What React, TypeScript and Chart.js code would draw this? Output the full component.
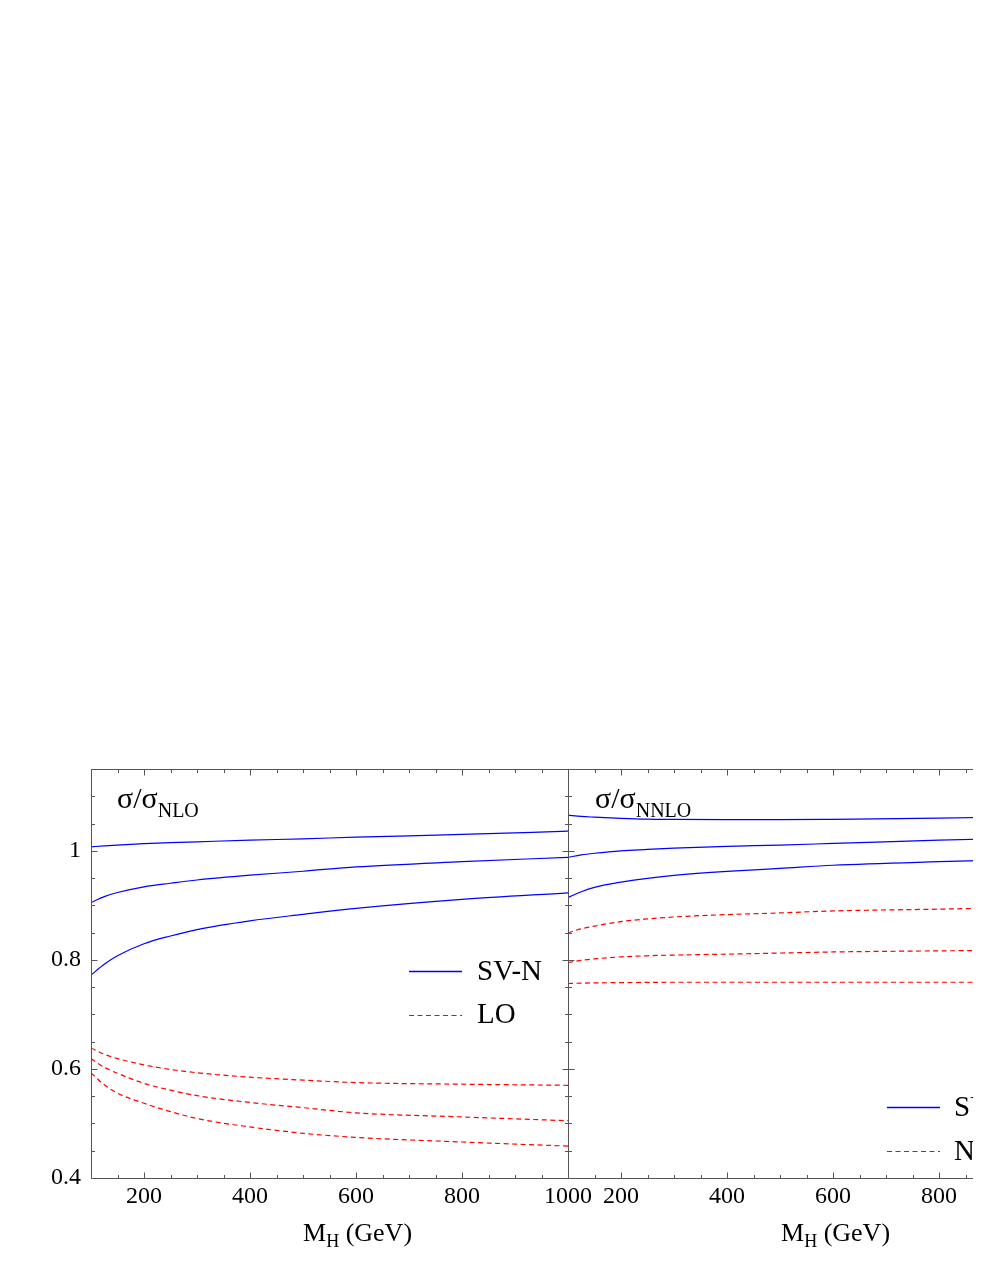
import React, { useEffect, useRef } from "react";
import { Chart, registerables } from "chart.js";

Chart.register(...registerables);

const FONT = "'Liberation Serif', 'Times New Roman', serif";

// ---- data ----
const massPoints = [100, 125, 150, 200, 250, 300, 400, 500, 600, 800, 1000];

// left panel: sigma / sigma_NLO
const svnOverNloUpper = [1.0073, 1.009, 1.0105, 1.013, 1.015, 1.0165, 1.0195, 1.022, 1.025, 1.030, 1.036];
const svnOverNloMiddle = [0.905, 0.916, 0.9235, 0.934, 0.9405, 0.9465, 0.9553, 0.9625, 0.9705, 0.980, 0.988];
const svnOverNloLower = [0.772, 0.792, 0.8075, 0.8295, 0.8438, 0.8556, 0.8716, 0.8834, 0.8945, 0.911, 0.923];
const loOverNloUpper = [0.6385, 0.627, 0.619, 0.6075, 0.599, 0.593, 0.5848, 0.5795, 0.575, 0.572, 0.570];
const loOverNloMiddle = [0.619, 0.603, 0.592, 0.5735, 0.561, 0.551, 0.5385, 0.529, 0.5195, 0.512, 0.505];
const loOverNloLower = [0.5927, 0.571, 0.5555, 0.537, 0.5217, 0.509, 0.4936, 0.482, 0.4745, 0.466, 0.4585];

// right panel: sigma / sigma_NNLO
const svnOverNnloUpper = [1.0655, 1.063, 1.0617, 1.0595, 1.058, 1.0575, 1.057, 1.057, 1.0577, 1.060, 1.063];
const svnOverNnloMiddle = [0.988, 0.9925, 0.9955, 1.0, 1.0025, 1.0048, 1.008, 1.0105, 1.0135, 1.0195, 1.024];
const svnOverNnloLower = [0.9145, 0.925, 0.933, 0.9424, 0.9496, 0.9548, 0.9621, 0.9676, 0.9735, 0.980, 0.985];
const nloOverNnloUpper = [0.8495, 0.857, 0.862, 0.8702, 0.8751, 0.8787, 0.883, 0.8861, 0.8897, 0.893, 0.897];
const nloOverNnloMiddle = [0.7952, 0.799, 0.8018, 0.8055, 0.8075, 0.8088, 0.8105, 0.8125, 0.8145, 0.8165, 0.818];
const nloOverNnloLower = [0.7567, 0.7573, 0.7578, 0.7583, 0.7587, 0.759, 0.759, 0.759, 0.759, 0.759, 0.759];

// ---- axes ----
const xMin = 100;
const xMax = 1000;
const yMin = 0.4;
const yMax = 1.15;
const xTickLabels = [200, 400, 600, 800, 1000];
const yTickLabels = [0.4, 0.6, 0.8, 1];
const xTickMarks = [100, 150, 200, 250, 300, 350, 400, 450, 500, 550, 600, 650, 700, 750, 800, 850, 900, 950, 1000];
const yTickMarks = [0.4, 0.45, 0.5, 0.55, 0.6, 0.65, 0.7, 0.75, 0.8, 0.85, 0.9, 0.95, 1.0, 1.05, 1.1, 1.15];

const BLUE = "#0000ff";
const RED = "#ff0000";

type Series = { label: string; values: number[]; color: string; dashed: boolean };

const leftSeries: Series[] = [
  { label: "SV-N", values: svnOverNloUpper, color: BLUE, dashed: false },
  { label: "SV-N", values: svnOverNloMiddle, color: BLUE, dashed: false },
  { label: "SV-N", values: svnOverNloLower, color: BLUE, dashed: false },
  { label: "LO", values: loOverNloUpper, color: RED, dashed: true },
  { label: "LO", values: loOverNloMiddle, color: RED, dashed: true },
  { label: "LO", values: loOverNloLower, color: RED, dashed: true },
];

const rightSeries: Series[] = [
  { label: "SV-N", values: svnOverNnloUpper, color: BLUE, dashed: false },
  { label: "SV-N", values: svnOverNnloMiddle, color: BLUE, dashed: false },
  { label: "SV-N", values: svnOverNnloLower, color: BLUE, dashed: false },
  { label: "NLO", values: nloOverNnloUpper, color: RED, dashed: true },
  { label: "NLO", values: nloOverNnloMiddle, color: RED, dashed: true },
  { label: "NLO", values: nloOverNnloLower, color: RED, dashed: true },
];

// ---- layout (container coordinates; container sits at page 8,8) ----
const CANVAS_TOP = 700;
const CANVAS_H = 550;
const PLOT_TOP = 761; // page 769
const PLOT_BOTTOM = 1170; // page 1178

const frameTicksPlugin = {
  id: "frameTicks",
  afterDraw(chart: any) {
    const { ctx, chartArea: a, scales } = chart;
    const xs = scales.x;
    const ys = scales.y;
    ctx.save();
    ctx.strokeStyle = "#555555";
    ctx.lineWidth = 1;
    const L = Math.round(a.left) + 0.5;
    const R = Math.round(a.right) + 0.5;
    const T = Math.round(a.top) + 0.5;
    const B = Math.round(a.bottom) + 0.5;
    ctx.beginPath();
    ctx.rect(L, T, R - L, B - T);
    ctx.stroke();
    ctx.beginPath();
    for (const v of xTickMarks) {
      const px = Math.round(xs.getPixelForValue(v)) + 0.5;
      const len = v % 200 === 0 ? 6 : 3.5;
      ctx.moveTo(px, B);
      ctx.lineTo(px, B - len);
      ctx.moveTo(px, T);
      ctx.lineTo(px, T + len);
    }
    for (const v of yTickMarks) {
      const py = Math.round(ys.getPixelForValue(v)) + 0.5;
      const major = yTickLabels.some((t) => Math.abs(t - v) < 1e-6);
      const len = major ? 6 : 3.5;
      ctx.moveTo(L, py);
      ctx.lineTo(L + len, py);
      ctx.moveTo(R, py);
      ctx.lineTo(R - len, py);
    }
    ctx.stroke();
    ctx.restore();
  },
};

function PanelChart(props: {
  left: number;
  width: number;
  areaLeft: number;
  areaRight: number;
  series: Series[];
  showYLabels: boolean;
}) {
  const { left, width, areaLeft, areaRight, series, showYLabels } = props;
  const ref = useRef<HTMLCanvasElement | null>(null);
  useEffect(() => {
    if (!ref.current) return;
    const chart = new Chart(ref.current, {
      type: "line",
      data: {
        datasets: series.map((s) => ({
          label: s.label,
          data: massPoints.map((m, i) => ({ x: m, y: s.values[i] })),
          borderColor: s.color,
          backgroundColor: s.color,
          borderWidth: 1.2,
          borderDash: s.dashed ? [5, 3.5] : [],
          pointRadius: 0,
          fill: false,
          cubicInterpolationMode: "monotone",
        })),
      },
      options: {
        responsive: false,
        animation: false,
        events: [],
        layout: {
          padding: {
            left: 0,
            right: width - areaRight,
            top: PLOT_TOP - CANVAS_TOP,
            bottom: 0,
          },
        },
        plugins: {
          legend: { display: false },
          tooltip: { enabled: false },
        },
        scales: {
          x: {
            type: "linear",
            min: xMin,
            max: xMax,
            grid: { display: false, drawTicks: false },
            border: { display: false },
            afterBuildTicks: (s: any) => {
              s.ticks = xTickLabels.map((v) => ({ value: v }));
            },
            afterFit: (s: any) => {
              s.height = CANVAS_H - (PLOT_BOTTOM - CANVAS_TOP);
            },
            ticks: {
              autoSkip: false,
              maxRotation: 0,
              minRotation: 0,
              padding: 4,
              color: "#000",
              font: { family: FONT, size: 24 },
              callback: (v: any) => String(v),
            },
          },
          y: {
            type: "linear",
            min: yMin,
            max: yMax,
            grid: { display: false, drawTicks: false },
            border: { display: false },
            afterBuildTicks: (s: any) => {
              s.ticks = yTickLabels.map((v) => ({ value: v }));
            },
            afterFit: (s: any) => {
              s.width = areaLeft;
            },
            ticks: {
              display: showYLabels,
              padding: 10,
              color: "#000",
              font: { family: FONT, size: 24 },
              callback: (v: any) => String(v),
            },
          },
        },
      } as any,
      plugins: [frameTicksPlugin],
    });
    return () => chart.destroy();
  }, []);
  return (
    <canvas
      ref={ref}
      width={width}
      height={CANVAS_H}
      style={{ position: "absolute", left, top: CANVAS_TOP, width, height: CANVAS_H }}
    />
  );
}

function TextAt(props: { x: number; baseline: number; size: number; children: any }) {
  const { x, baseline, size, children } = props;
  return (
    <div
      style={{
        position: "absolute",
        left: x - 8,
        top: baseline - 8 - 0.8375 * size,
        fontSize: size,
        lineHeight: 1,
        fontFamily: FONT,
        whiteSpace: "nowrap",
        color: "#000",
      }}
    >
      {children}
    </div>
  );
}

function Sub(props: { size: number; shift: number; children: any }) {
  return (
    <span style={{ fontSize: props.size, verticalAlign: -props.shift + "px", lineHeight: 1 }}>
      {props.children}
    </span>
  );
}

export default function App() {
  useEffect(() => {
    const html = document.documentElement.style as any;
    const body = document.body.style as any;
    const prev = [html.overflow, body.overflow, html.scrollbarWidth, body.scrollbarWidth];
    html.overflow = "hidden";
    body.overflow = "hidden";
    html.scrollbarWidth = "none";
    body.scrollbarWidth = "none";
    return () => {
      html.overflow = prev[0];
      body.overflow = prev[1];
      html.scrollbarWidth = prev[2];
      body.scrollbarWidth = prev[3];
    };
  }, []);
  return (
    <div style={{ position: "relative", width: 1120, height: 1250, overflow: "hidden" }}>
      <PanelChart left={0} width={600} areaLeft={83} areaRight={560} series={leftSeries} showYLabels={true} />
      <PanelChart left={540} width={560} areaLeft={20} areaRight={497} series={rightSeries} showYLabels={false} />

      <svg
        width={1120}
        height={1250}
        style={{ position: "absolute", left: 0, top: 0, pointerEvents: "none" }}
      >
        <line x1={409 - 8} y1={971 - 8 + 0.5} x2={462 - 8} y2={971 - 8 + 0.5} stroke={BLUE} strokeWidth={1.3} />
        <line x1={409 - 8} y1={1015 - 8 + 0.5} x2={462 - 8} y2={1015 - 8 + 0.5} stroke={RED} strokeWidth={1.2} strokeDasharray="5 3.5" />
        <line x1={887 - 8} y1={1107 - 8 + 0.5} x2={940 - 8} y2={1107 - 8 + 0.5} stroke={BLUE} strokeWidth={1.3} />
        <line x1={887 - 8} y1={1151 - 8 + 0.5} x2={940 - 8} y2={1151 - 8 + 0.5} stroke={RED} strokeWidth={1.2} strokeDasharray="5 3.5" />
      </svg>

      <TextAt x={117} baseline={808} size={30}>
        σ/σ<Sub size={20} shift={9}>NLO</Sub>
      </TextAt>
      <TextAt x={595} baseline={808} size={30}>
        σ/σ<Sub size={20} shift={9}>NNLO</Sub>
      </TextAt>

      <TextAt x={477} baseline={980.5} size={29}>SV-N</TextAt>
      <TextAt x={477} baseline={1023.5} size={29}>LO</TextAt>
      <TextAt x={954} baseline={1116} size={29}>SV-N</TextAt>
      <TextAt x={954} baseline={1160} size={29}>NLO</TextAt>

      <TextAt x={303} baseline={1242} size={26}>
        M<Sub size={18} shift={6}>H</Sub> (GeV)
      </TextAt>
      <TextAt x={781} baseline={1242} size={26}>
        M<Sub size={18} shift={6}>H</Sub> (GeV)
      </TextAt>
    </div>
  );
}
